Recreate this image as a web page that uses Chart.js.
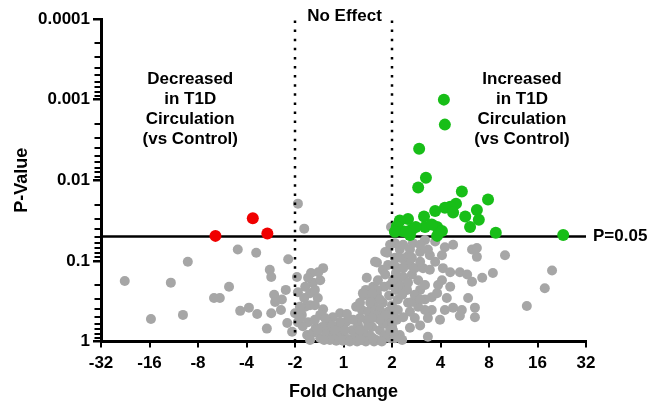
<!DOCTYPE html>
<html>
<head>
<meta charset="utf-8">
<script src="https://cdn.jsdelivr.net/npm/chart.js@4"></script>
<style>
  body { margin: 0; background: #fff; }
</style>
</head>
<body>
<canvas id="volcano" width="660" height="404"></canvas>
<script>
// axis labels: x is signed log2 fold change (-5..5), y is p-value on a reversed log axis
const xTickLabels = ['-32', '-16', '-8', '-4', '-2', '1', '2', '4', '8', '16', '32'];
const yTickLabels = ['1', '0.1', '0.01', '0.001', '0.0001'];
const pCutoff = 0.05;
const foldCutoff = 1; // log2 units, i.e. 2-fold

// values: signed log2 fold change and -log10(p)
const grayLog2FC = [
  -4.51, -3.97, -3.56, -3.31, -3.21, -2.67, -2.55, -2.36, -2.18, -2.13, -1.95, -1.80, -1.78, -1.58, -1.52,
  -1.49, -1.49, -1.43, -1.41, -1.27, -1.29, -1.19, -1.14, -1.16, -1.06, -1.00, -0.94, -0.96, -0.81,
  -0.67, -0.42, -0.79, -0.63, -0.48, -0.69, -0.59, -0.53, -0.79, -0.69, -0.90, -0.86, -0.42, -0.48,
  -0.73, -0.75, -0.07, -0.22, -0.34, -0.28, -0.63, -0.48, -0.94,
  -0.44, -0.36, -0.20, -0.11, -0.03, 0.05, 0.09, 0.18, 0.24, 0.30, 0.38, 0.42, 0.48, 0.55, 0.59, 0.67,
  0.71, 0.75, 0.84, 0.88, 0.96, 0.92, -0.15, -0.01, -0.28, 0.13, 0.28, 0.46, 0.63, 0.79, 1.00, 1.06,
  -0.07, -0.24, 0.34, 0.20, 0.07, 0.38, 0.26, 0.51, 0.63, 0.75, 0.57, 0.42, 0.34, 0.46, 0.69, 0.81,
  0.84, 0.94, 1.00, 1.08, 1.12, 1.04, 1.12, 1.10, 1.16, 0.94,
  0.48, 0.69, 0.90, 0.40, 0.61, 0.75, 0.98, 0.86, 0.65, 1.16, 1.27, 0.81, 1.02, 1.23, 0.69, 0.55,
  1.02, 0.40, 0.61, 0.34, 0.81,
  1.23, 1.43, 1.68, 1.89, 2.09, 2.26, 2.65, 2.75, 1.31, 1.58, 1.78, 2.03, 1.64, 1.37, 1.23, 1.54,
  2.05, 2.20, 2.40, 2.55, 2.65, 2.03, 2.20, 1.31, 1.58, 1.82, 1.93, 2.13, 2.57, 2.71, 2.26, 2.44,
  2.40, 1.33, 1.54, 1.74, 1.47, 1.23, 1.74, 2.71, 3.33, 2.75, 3.08, 2.86, 1.41, 1.02, 4.30, 4.15, 3.78,
  1.06, 1.12, 1.41, 1.68, 1.47, 1.78, 1.89, 1.95, 1.06, 1.37, 1.68, 1.82, 2.09, 1.99, 1.58, 1.37,
  1.21, 1.08, 1.33, 0.92, 0.96, 1.58, 1.74, -0.57, -0.40,
  -0.84, -0.59, -0.53, -0.38, -0.18, 0.03, 0.34, 0.51, 0.65, 0.86, 0.96, 1.06, 0.75, 0.59, 0.96, 0.86,
  0.71, 0.59, 1.04, 1.16, 1.23, 1.41, 1.47, 1.58, 1.21, 1.37, 1.12, 1.58, 1.68, -0.73, -0.52, -0.81,
  -0.94, -0.59, -0.90, -0.69
];
const grayNegLog10P = [
  0.75, 0.28, 0.73, 0.33, 0.99, 0.54, 0.54, 0.68, 1.14, 0.38, 0.42, 1.10, 0.34, 0.16, 0.89,
  0.80, 0.35, 0.58, 0.49, 0.52, 0.39, 0.64, 1.02, 0.23, 0.12, 0.35, 1.71, 0.80, 1.40,
  0.85, 0.91, 0.68, 0.73, 0.76, 0.60, 0.64, 0.54, 0.43, 0.45, 0.43, 0.33, 0.40, 0.33,
  0.24, 0.08, 0.35, 0.30, 0.23, 0.14, 0.11, 0.04, 0.24,
  0.18, 0.09, 0.07, 0.17, 0.09, 0.24, 0.03, 0.14, 0.07, 0.20, 0.02, 0.13, 0.27, 0.07, 0.18, 0.02,
  0.29, 0.14, 0.07, 0.22, 0.04, 0.37, 0.01, 0.01, 0.02, 0.00, 0.00, 0.00, 0.00, 0.00, 0.19, 0.29,
  0.24, 0.20, 0.29, 0.27, 0.34, 0.39, 0.43, 0.37, 0.44, 0.39, 0.52, 0.57, 0.48, 0.64, 0.59, 0.48,
  0.68, 0.57, 0.45, 0.64, 0.74, 0.37, 0.52, 0.27, 0.08, 0.25,
  0.79, 0.98, 1.10, 0.60, 0.68, 0.52, 1.42, 1.11, 0.99, 1.14, 0.99, 0.89, 0.76, 0.68, 0.64, 0.48,
  0.27, 0.11, 0.04, 0.02, 0.23,
  1.20, 1.22, 1.26, 1.24, 1.17, 1.20, 1.14, 1.05, 1.05, 1.11, 1.07, 1.07, 0.91, 0.95, 0.80, 0.76,
  0.91, 0.86, 0.86, 0.83, 0.74, 0.76, 0.68, 0.64, 0.64, 0.55, 0.60, 0.54, 0.54, 0.42, 0.42, 0.39,
  0.32, 0.48, 0.43, 0.29, 0.29, 0.30, 0.06, 0.30, 1.07, 1.16, 0.85, 0.79, 0.49, 0.14, 0.88, 0.66, 0.44,
  1.04, 0.91, 0.83, 0.70, 0.58, 0.89, 0.99, 0.70, 1.22, 1.14, 0.52, 0.39, 0.39, 0.27, 0.20, 0.17,
  0.02, 0.85, 0.73, 0.95, 1.20, 1.20, 1.14, 0.17, 0.02,
  0.19, 0.27, 0.14, 0.29, 0.14, 0.14, 0.14, 0.20, 0.33, 0.33, 0.14, 0.04, 0.27, 0.29, 0.70, 0.83,
  0.76, 0.60, 0.95, 1.04, 0.91, 1.04, 0.91, 0.99, 0.58, 0.37, 0.39, 0.52, 0.39, 0.79, 0.86, 0.54,
  0.61, 0.45, 0.29, 0.02
];

const redLog2FC = [-2.64, -1.87, -1.57];
const redNegLog10P = [1.31, 1.53, 1.34];

const greenLog2FC = [
  2.07, 2.09, 1.56, 1.70, 1.54, 2.44, 2.98, 2.32, 2.20, 2.09, 2.75, 1.89, 2.26, 2.51, 2.79, 1.66,
  1.33, 1.16, 1.10, 1.21, 1.41, 1.37, 1.68, 1.93, 2.03, 1.93, 2.61, 3.14, 4.53, 1.82, 1.49, 1.29, 1.06
];
const greenNegLog10P = [
  3.00, 2.69, 2.39, 2.03, 1.91, 1.86, 1.76, 1.71, 1.67, 1.66, 1.63, 1.62, 1.60, 1.55, 1.51, 1.55,
  1.52, 1.50, 1.43, 1.37, 1.39, 1.32, 1.42, 1.42, 1.37, 1.31, 1.42, 1.35, 1.32, 1.45, 1.42, 1.36, 1.36
];

const decreasedText = ['Decreased', 'in T1D', 'Circulation', '(vs Control)'];
const increasedText = ['Increased', 'in T1D', 'Circulation', '(vs Control)'];

const FONT = "'Liberation Sans', Arial, sans-serif";

function toPoints(fc, nlp) {
  return fc.map((x, i) => ({ x: x, y: Math.pow(10, -nlp[i]) }));
}

function isDecade(v) {
  const e = Math.log10(v);
  return Math.abs(e - Math.round(e)) < 1e-6;
}

// log tick values: 1..9 in every decade from 0.0001 to 1
function logTickValues() {
  const vals = [];
  for (let e = -4; e < 0; e++) {
    for (let k = 1; k < 10; k++) vals.push(k * Math.pow(10, e));
  }
  vals.push(1);
  return vals;
}

const notes = {
  id: 'notes',
  afterDraw(chart) {
    const { ctx, scales: { x, y } } = chart;
    ctx.save();

    // minor tick marks on the p-value axis
    ctx.strokeStyle = '#000';
    ctx.lineWidth = 2;
    ctx.beginPath();
    logTickValues().filter(v => !isDecade(v)).forEach(v => {
      const py = Math.round(y.getPixelForValue(v));
      ctx.moveTo(x.left - 1, py);
      ctx.lineTo(x.left - 6.5, py);
    });
    ctx.stroke();

    ctx.fillStyle = '#000';
    ctx.font = 'bold 17px ' + FONT;
    ctx.textAlign = 'center';
    ctx.textBaseline = 'middle';
    ctx.fillText('No Effect', x.getPixelForValue(0) + 1, y.top - 3);

    const yMid = y.getPixelForValue(0.001);
    decreasedText.forEach((t, i) => ctx.fillText(t, x.getPixelForValue(-3.16), yMid + (i - 1) * 20));
    increasedText.forEach((t, i) => ctx.fillText(t, x.getPixelForValue(3.68), yMid + (i - 1) * 20));

    ctx.textAlign = 'left';
    ctx.fillText('P=' + pCutoff, x.right + 7, y.getPixelForValue(pCutoff));
    ctx.restore();
  }
};

new Chart('volcano', {
  type: 'scatter',
  data: {
    datasets: [
      {
        label: 'Increased',
        data: toPoints(greenLog2FC, greenNegLog10P),
        backgroundColor: 'rgb(24,190,24)',
        borderWidth: 0,
        pointRadius: 6,
        clip: false,
        order: 0
      },
      {
        label: 'Decreased',
        data: toPoints(redLog2FC, redNegLog10P),
        backgroundColor: 'rgb(240,0,0)',
        borderWidth: 0,
        pointRadius: 6,
        clip: false,
        order: 0
      },
      {
        label: 'fold -2',
        type: 'line',
        data: [{ x: -foldCutoff, y: 1 }, { x: -foldCutoff, y: 0.0001 }],
        borderColor: '#000',
        borderWidth: 2.5,
        borderDash: [2.5, 6.6],
        pointRadius: 0,
        order: 1
      },
      {
        label: 'fold 2',
        type: 'line',
        data: [{ x: foldCutoff, y: 1 }, { x: foldCutoff, y: 0.0001 }],
        borderColor: '#000',
        borderWidth: 2.5,
        borderDash: [2.5, 6.6],
        pointRadius: 0,
        order: 1
      },
      {
        label: 'No change',
        data: toPoints(grayLog2FC, grayNegLog10P),
        backgroundColor: 'rgb(166,166,166)',
        borderWidth: 0,
        pointRadius: 5,
        clip: false,
        order: 2
      },
      {
        label: 'P=0.05',
        type: 'line',
        data: [{ x: -5, y: pCutoff }, { x: 5, y: pCutoff }],
        borderColor: '#000',
        borderWidth: 2.5,
        pointRadius: 0,
        order: 3
      }
    ]
  },
  options: {
    responsive: false,
    animation: false,
    layout: { padding: { top: 19, right: 74, left: 0, bottom: 0 } },
    plugins: {
      legend: { display: false },
      tooltip: { enabled: false }
    },
    scales: {
      x: {
        type: 'linear',
        min: -5,
        max: 5,
        grid: { drawOnChartArea: false, drawTicks: true, tickLength: 6, color: '#000', lineWidth: 2 },
        border: { color: '#000', width: 3 },
        ticks: {
          stepSize: 1,
          autoSkip: false,
          maxRotation: 0,
          padding: 6,
          color: '#000',
          font: { family: FONT, size: 17, weight: 'bold' },
          callback: v => xTickLabels[Math.round(v) + 5]
        },
        title: {
          display: true,
          text: 'Fold Change',
          color: '#000',
          font: { family: FONT, size: 18, weight: 'bold' },
          padding: { top: 0, bottom: 1 }
        },
        afterFit: s => { s.height = 62.5; }
      },
      y: {
        type: 'logarithmic',
        reverse: true,
        min: 0.0001,
        max: 1,
        afterBuildTicks: s => { s.ticks = logTickValues().filter(isDecade).map(v => ({ value: v })); },
        grid: {
          drawOnChartArea: false,
          drawTicks: true,
          tickLength: 8,
          color: '#000',
          lineWidth: 2.5
        },
        border: { color: '#000', width: 3 },
        ticks: {
          autoSkip: false,
          padding: 3,
          color: '#000',
          font: { family: FONT, size: 17, weight: 'bold' },
          callback: v => yTickLabels[-Math.round(Math.log10(v))]
        },
        title: {
          display: true,
          text: 'P-Value',
          color: '#000',
          font: { family: FONT, size: 18, weight: 'bold' },
          padding: { top: 11, bottom: 0 }
        },
        afterFit: s => { s.width = 101; }
      }
    }
  },
  plugins: [notes]
});
</script>
</body>
</html>
